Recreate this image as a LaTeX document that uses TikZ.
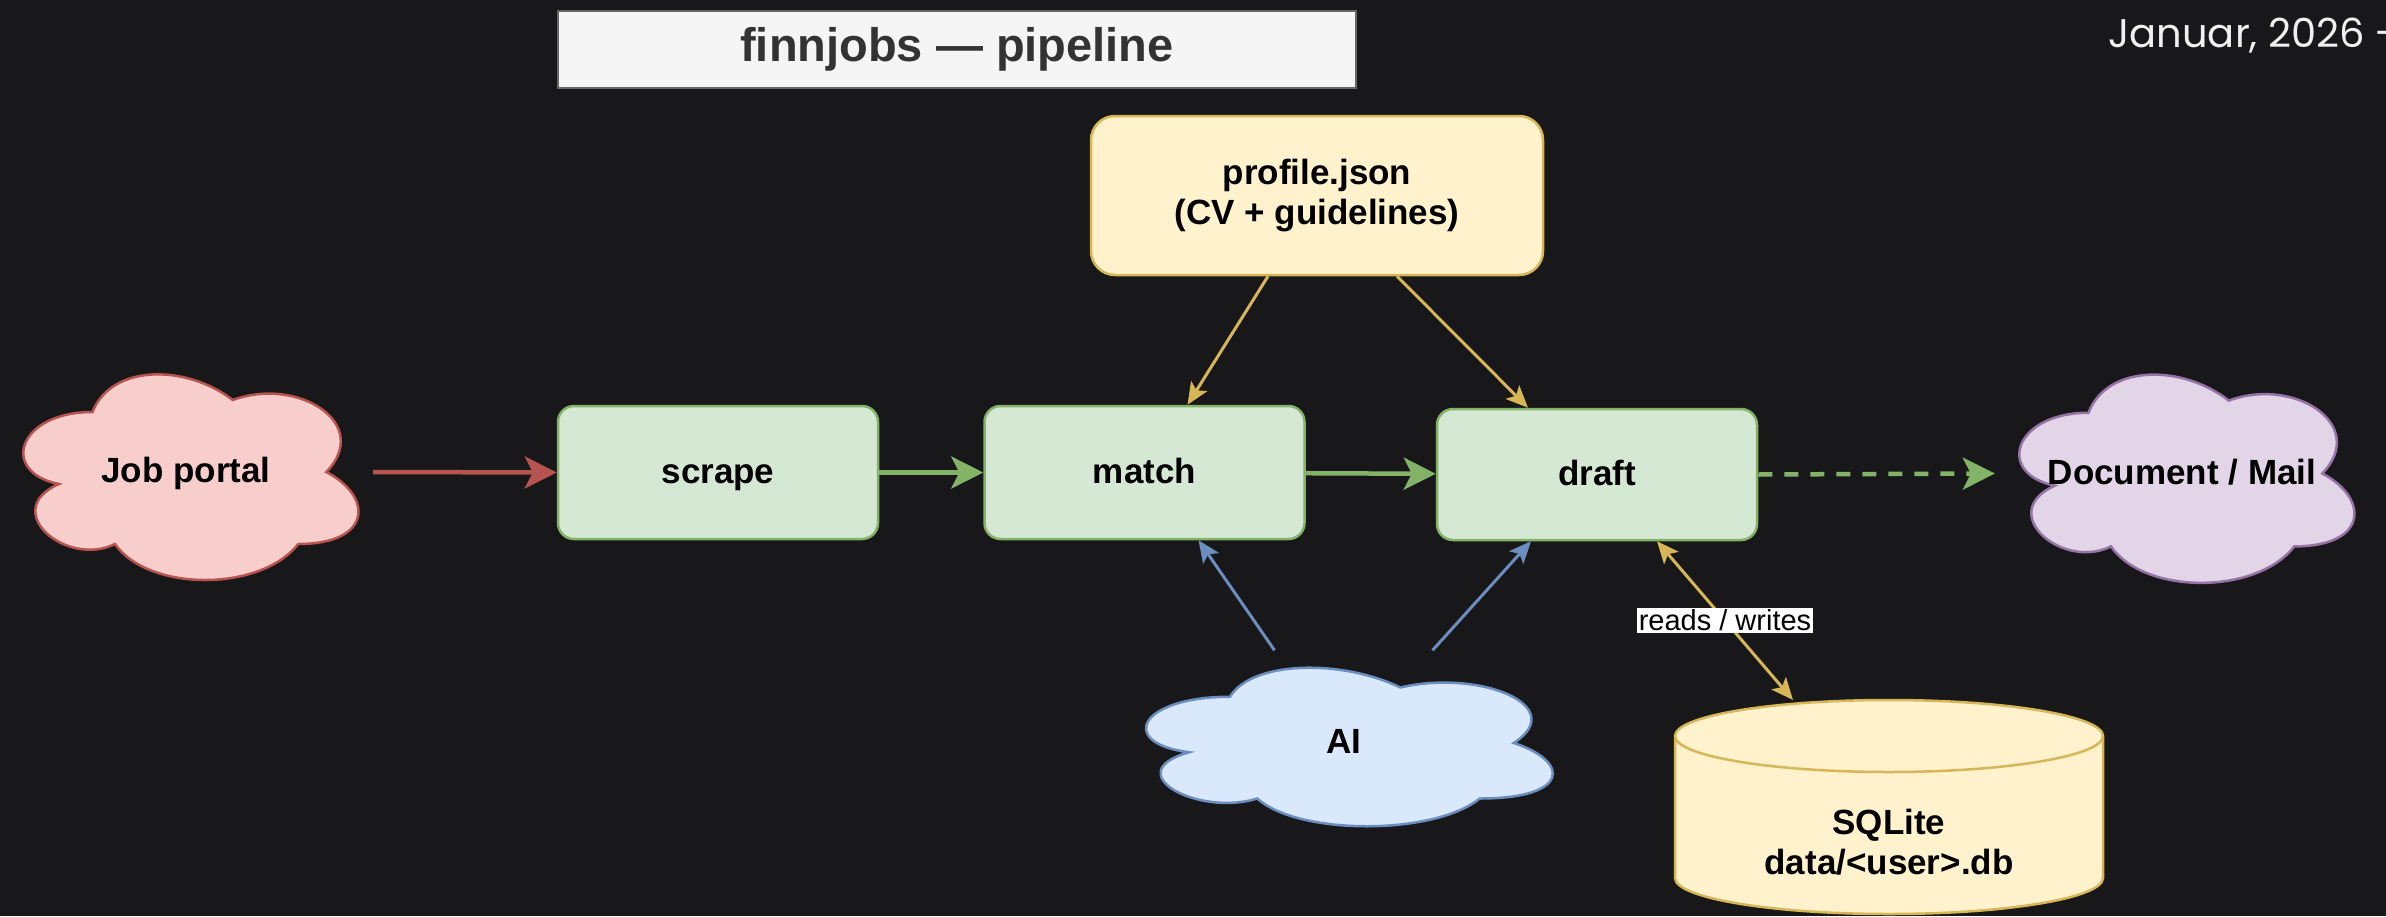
\documentclass[tikz,border=0pt]{standalone}
\usepackage{fontspec}
\setmainfont{Liberation Sans}
\newfontfamily\datefont{Poppins}
\usetikzlibrary{arrows.meta,calc}
\definecolor{bgdark}{HTML}{18181A}
\definecolor{greenfill}{HTML}{D5E8D4}
\definecolor{greenline}{HTML}{82B366}
\definecolor{redfill}{HTML}{F8CECC}
\definecolor{redline}{HTML}{B85450}
\definecolor{purpfill}{HTML}{E1D5E7}
\definecolor{purpline}{HTML}{9673A6}
\definecolor{bluefill}{HTML}{DAE8FC}
\definecolor{blueline}{HTML}{6C8EBF}
\definecolor{yelfill}{HTML}{FFF2CC}
\definecolor{yelline}{HTML}{D6B656}
\definecolor{titlefill}{HTML}{F5F5F5}
\definecolor{titleline}{HTML}{666666}
\definecolor{titletext}{HTML}{333333}
% cloud outline: centre x, centre y, width, height, style
\newcommand{\puffshape}[5]{%
  \begin{scope}[shift={(#1-#3/2,#2-#4/2)}, x=#3pt, y=-#4pt]
    \filldraw[#5] (0.25,0.25) .. controls (0.05,0.25) and (0,0.5) .. (0.16,0.55)
      .. controls (0,0.66) and (0.18,0.9) .. (0.31,0.8)
      .. controls (0.4,1) and (0.7,1) .. (0.8,0.8)
      .. controls (1,0.8) and (1,0.6) .. (0.875,0.5)
      .. controls (1,0.3) and (0.8,0.1) .. (0.625,0.2)
      .. controls (0.5,0.05) and (0.3,0.05) .. (0.25,0.25) -- cycle;
  \end{scope}}
\begin{document}
\begin{tikzpicture}[x=1pt,y=-1pt,
    every node/.style={font=\fontsize{35}{40}\selectfont\bfseries, align=center},
    stepbox/.style={draw=greenline, fill=greenfill, line width=2.5pt, rounded corners=16pt,
        minimum width=320pt, minimum height=133pt, text height=28pt, text depth=7pt},
    puffbox/.style={inner sep=0pt, text height=28pt, text depth=7pt},
    bigarrow/.style={line width=4.5pt, -{Stealth[length=32pt,width=32pt,inset=8pt]}},
    thinarrow/.style={line width=3pt, -{Stealth[length=22pt,width=19pt,inset=5pt]}},
    dblarrow/.style={line width=3pt, {Stealth[length=22pt,width=19pt,inset=5pt]}-{Stealth[length=22pt,width=19pt,inset=5pt]}},
    rwlabel/.style={fill=white, text=black, inner sep=2pt, font=\fontsize{29}{32}\selectfont}]
    \clip (0,0) rectangle (2386,916);
    \fill[bgdark] (0,0) rectangle (2386,916);
    
    \node[draw=titleline, fill=titlefill, line width=2pt, text=titletext,
        font=\fontsize{47}{52}\selectfont\bfseries,
        minimum width=798pt, minimum height=77pt] (TT) at (957,49.5) {finnjobs — pipeline};
    \node[anchor=base west, text=white!94!black, font=\fontsize{40}{46}\selectfont\datefont] (DT) at (2105,47) {Januar, 2026 -};
    
    \node[draw=yelline, fill=yelfill, line width=2.5pt, rounded corners=24pt,
        minimum width=452pt, minimum height=159pt] (PF) at (1317,195.5) {profile.json\\(CV + guidelines)};
    
    \puffshape{186}{472}{374}{240}{draw=redline, fill=redfill, line width=2.5pt}
    \node[puffbox, minimum width=374pt, minimum height=240pt] (JP) at (186,472) {Job portal};
    \node[stepbox] (SC) at (718,472.5) {scrape};
    \node[stepbox] (MA) at (1144.5,472.5) {match};
    \node[stepbox, minimum height=131pt] (DR) at (1597,474.5) {draft};
    \puffshape{2182}{473.5}{374}{243}{draw=purpline, fill=purpfill, line width=2.5pt}
    \node[puffbox, minimum width=374pt, minimum height=243pt] (DM) at (2182,473.5) {Document / Mail};
    \puffshape{1343.5}{743}{454}{185}{draw=blueline, fill=bluefill, line width=2.5pt}
    \node[puffbox, minimum width=454pt, minimum height=185pt] (AI) at (1343.5,743) {AI};
    
    % database drum
    \coordinate (DBC) at (1889,807);
    \filldraw[draw=yelline, fill=yelfill, line width=2.5pt]
        ($(DBC)+(-214,-71)$) -- ($(DBC)+(-214,71)$)
        arc[start angle=180, end angle=0, x radius=214, y radius=36]
        -- ($(DBC)+(214,-71)$)
        arc[start angle=0, end angle=-180, x radius=214, y radius=36] -- cycle;
    \draw[yelline, line width=2.5pt] ($(DBC)+(-214,-71)$)
        arc[start angle=180, end angle=0, x radius=214, y radius=36];
    \node (DB) at (1889,842) {SQLite\\data/<user>.db};
    
    \draw[bigarrow, redline] (JP.east) -- (SC.west);
    \draw[bigarrow, greenline] (SC) -- (MA);
    \draw[bigarrow, greenline] (MA) -- (DR);
    \draw[bigarrow, greenline, dash pattern=on 14pt off 12pt] (DR.east) -- (DM.west);
    \draw[thinarrow, yelline] ($(PF.south)+(-49,0)$) -- ($(MA.north)+(43,0)$);
    \draw[thinarrow, yelline] ($(PF.south)+(80,0)$) -- ($(DR.north)+(-69,0)$);
    \draw[thinarrow, blueline] ($(AI.north)+(-69,0)$) -- ($(MA.south)+(54,0)$);
    \draw[thinarrow, blueline] ($(AI.north)+(89,0)$) -- ($(DR.south)+(-66,0)$);
    \draw[dblarrow, yelline] ($(DR.south)+(60,0)$) -- node[rwlabel] {reads / writes} ($(DBC)+(-96,-107)$);
\end{tikzpicture}
\end{document}
